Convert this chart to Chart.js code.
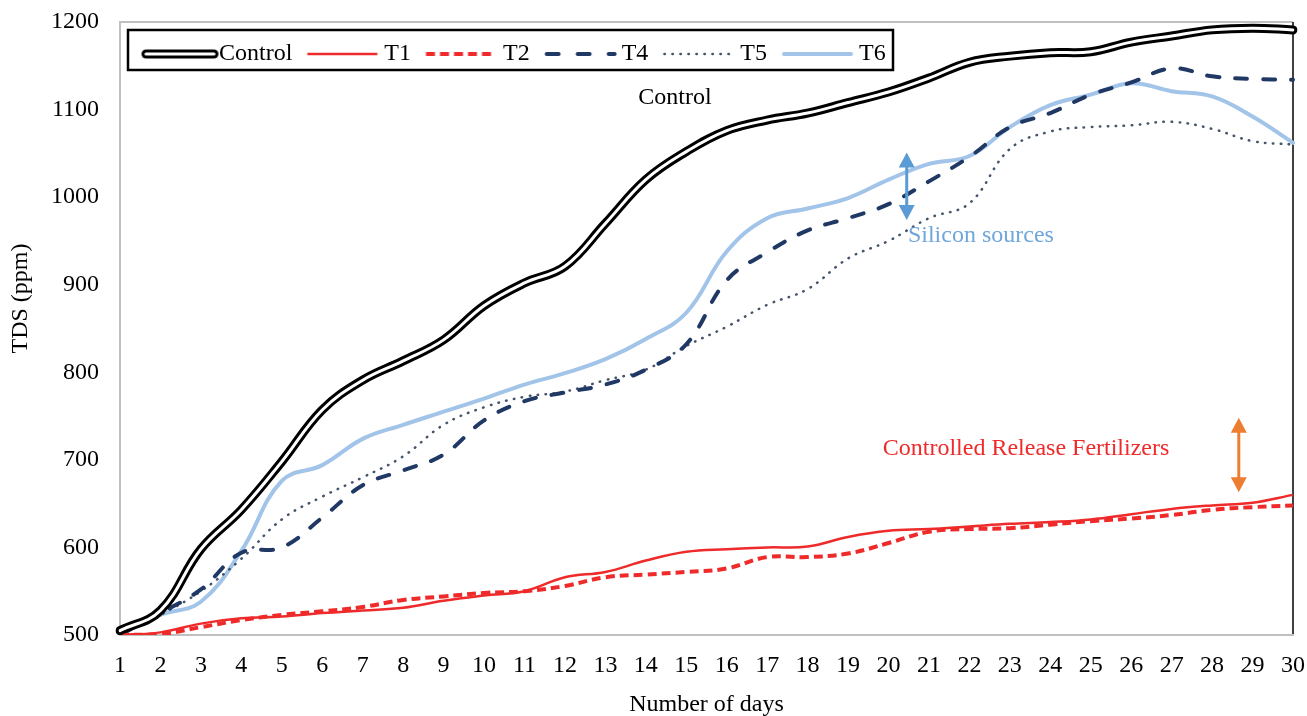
<!DOCTYPE html>
<html>
<head>
<meta charset="utf-8">
<script src="https://cdn.jsdelivr.net/npm/chart.js@4.4.1/dist/chart.umd.min.js"></script>
<style>
html,body{margin:0;padding:0;background:#fff;}
#wrap{width:1307px;height:716px;}
</style>
</head>
<body>
<div id="wrap"><canvas id="c" width="1307" height="716"></canvas></div>
<script>
// ---------- data ----------
const days = ['1','2','3','4','5','6','7','8','9','10','11','12','13','14','15','16','17','18','19','20','21','22','23','24','25','26','27','28','29','30'];
const seriesNames = ['Control','T1','T2','T4','T5','T6'];
const control = [505,528,598,643,698,757,791,813,837,876,902,921,970,1020,1052,1076,1088,1096,1108,1120,1136,1154,1161,1165,1166,1177,1184,1191,1193,1191];
const t1 = [500,503,513,519,521,525,528,531,539,545,550,566,572,585,595,598,600,601,612,619,621,624,627,629,632,638,644,648,651,660];
const t2 = [500,501,509,517,523,527,532,540,544,548,550,556,566,569,572,576,589,589,593,605,618,621,622,626,630,633,637,643,646,648];
const t4 = [500,525,552,594,600,634,671,688,706,745,767,777,786,803,832,905,937,962,976,992,1018,1046,1080,1096,1117,1131,1147,1138,1135,1134];
const t5 = [500,523,550,587,632,658,680,704,740,760,772,778,791,803,830,852,877,895,930,950,976,993,1055,1075,1080,1082,1086,1078,1064,1060];
const t6 = [502,523,538,596,676,694,724,740,755,770,786,799,815,838,868,938,976,987,999,1020,1038,1047,1080,1105,1117,1130,1121,1115,1092,1062];
const yAxisTitle = 'TDS (ppm)';
const xAxisTitle = 'Number of days';
const noteLabels = ['Control', 'Silicon sources', 'Controlled Release Fertilizers'];

// ---------- styles ----------
const FONT = "'Liberation Serif','Times New Roman',serif";
const C_RED = '#EE2A2A', C_NAVY = '#203864', C_SLATE = '#44546A', C_LBLUE = '#A2C4E8';
const BOXW = 65;          // legend box width (text starts BOXW + 12 after item start)
const OFF = 17.5;         // canvas offset so that sample starts at item start
const Y_TITLE_SHIFT = 10; // leading blanks that lift the rotated y title

function sample(draw){
  const cv = document.createElement('canvas');
  cv.width = 100; cv.height = 14;
  const g = cv.getContext('2d');
  draw(g);
  return cv;
}
function seg(g, color, w, dash, cap, x0, x1){
  g.strokeStyle = color; g.lineWidth = w; g.setLineDash(dash || []); g.lineCap = cap || 'butt';
  g.beginPath(); g.moveTo(OFF + x0, 7); g.lineTo(OFF + x1, 7); g.stroke();
}
const legendSamples = [
  sample(g => { seg(g,'#000',9,[], 'round',4,72); seg(g,'#fff',3,[], 'round',4,72); }),
  sample(g => seg(g,C_RED,2.5,[], 'butt',0,70)),
  sample(g => seg(g,C_RED,4,[9,5], 'butt',0,70)),
  sample(g => seg(g,C_NAVY,4,[12,19], 'round',2,70)),
  sample(g => seg(g,C_SLATE,2.5,[0.5,7.5], 'round',1,70)),
  sample(g => seg(g,C_LBLUE,4,[], 'round',2,69))
];

const base = { fill:false, pointRadius:0, pointHoverRadius:0, tension:0.4, borderJoinStyle:'round' };

const frame = {
  id: 'frame',
  beforeLayout(chart){
    const lg = chart.legend;
    if (lg && !lg._patched){
      const f = lg.fit;
      lg.fit = function(){ f.call(this); this.height = 0; };
      lg._patched = true;
    }
  },
  afterLayout(chart){
    const lg = chart.legend;
    lg.left = 127; lg.right = 1000; lg.top = 27; lg.bottom = 76;
    lg.width = lg.right - lg.left; lg.height = lg.bottom - lg.top;
  },
  beforeDraw(chart){
    const ctx = chart.ctx;
    ctx.save();
    ctx.fillStyle = '#fff'; ctx.fillRect(0,0,chart.width,chart.height);
    const a = chart.chartArea;
    ctx.strokeStyle = '#C0C0C0'; ctx.lineWidth = 2;
    ctx.beginPath(); ctx.moveTo(a.left, a.top); ctx.lineTo(a.right, a.top); ctx.stroke();
    ctx.strokeStyle = '#404040';
    ctx.beginPath(); ctx.moveTo(a.right, a.top); ctx.lineTo(a.right, a.bottom + 1); ctx.stroke();
    ctx.strokeStyle = '#000'; ctx.lineWidth = 2.5;
    ctx.strokeRect(128, 30, 765, 40);
    ctx.restore();
  }
};

function arrow(ctx, x, yTop, yBot, color){
  const hw = 8, hl = 15;
  ctx.strokeStyle = color; ctx.fillStyle = color; ctx.lineWidth = 3;
  ctx.beginPath(); ctx.moveTo(x, yTop + hl - 2); ctx.lineTo(x, yBot - hl + 2); ctx.stroke();
  ctx.beginPath(); ctx.moveTo(x, yTop); ctx.lineTo(x - hw, yTop + hl); ctx.lineTo(x + hw, yTop + hl); ctx.closePath(); ctx.fill();
  ctx.beginPath(); ctx.moveTo(x, yBot); ctx.lineTo(x - hw, yBot - hl); ctx.lineTo(x + hw, yBot - hl); ctx.closePath(); ctx.fill();
}

const notes = {
  id: 'notes',
  afterDatasetsDraw(chart){
    const {ctx, scales:{x, y}} = chart;
    const px = d => x.getPixelForValue(d - 1);
    ctx.save();
    ctx.font = '24px ' + FONT;
    ctx.textBaseline = 'middle';
    ctx.textAlign = 'center'; ctx.fillStyle = '#000';
    ctx.fillText(noteLabels[0], px(14.72), y.getPixelForValue(1114));
    ctx.textAlign = 'left'; ctx.fillStyle = '#6FA6DC';
    ctx.fillText(noteLabels[1], px(20.48), y.getPixelForValue(956));
    ctx.textAlign = 'center'; ctx.fillStyle = C_RED;
    ctx.fillText(noteLabels[2], px(23.4), y.getPixelForValue(713));
    arrow(ctx, px(20.45), y.getPixelForValue(1051), y.getPixelForValue(974), '#5B9BD5');
    arrow(ctx, px(28.66), y.getPixelForValue(748), y.getPixelForValue(663), '#ED7D31');
    ctx.restore();
  }
};

Chart.defaults.font.family = FONT;
Chart.defaults.font.size = 24;
Chart.defaults.color = '#000';

new Chart(document.getElementById('c'), {
  type: 'line',
  data: {
    labels: days,
    datasets: [
      Object.assign({}, base, { label: seriesNames[0], data: control, borderColor:'#000', backgroundColor:'#000', borderWidth:9, borderCapStyle:'round', order:1 }),
      Object.assign({}, base, { label: seriesNames[1], data: t1, borderColor:C_RED, backgroundColor:C_RED, borderWidth:2.5, order:2 }),
      Object.assign({}, base, { label: seriesNames[2], data: t2, borderColor:C_RED, backgroundColor:C_RED, borderWidth:4, borderDash:[9,5], order:3 }),
      Object.assign({}, base, { label: seriesNames[3], data: t4, borderColor:C_NAVY, backgroundColor:C_NAVY, borderWidth:4, borderDash:[12,16], borderCapStyle:'round', order:4 }),
      Object.assign({}, base, { label: seriesNames[4], data: t5, borderColor:C_SLATE, backgroundColor:C_SLATE, borderWidth:2.5, borderDash:[0.5,7.5], borderCapStyle:'round', order:5 }),
      Object.assign({}, base, { label: seriesNames[5], data: t6, borderColor:C_LBLUE, backgroundColor:C_LBLUE, borderWidth:4, borderCapStyle:'round', order:6 }),
      Object.assign({}, base, { label: 'overlay', data: control, borderColor:'#fff', backgroundColor:'#fff', borderWidth:3, borderCapStyle:'round', order:0 })
    ]
  },
  options: {
    responsive: false,
    animation: false,
    events: [],
    layout: { padding: { top: 22, right: 14, left: 0, bottom: 0 } },
    plugins: {
      tooltip: { enabled: false },
      legend: {
        display: true,
        position: 'top',
        align: 'start',
        labels: {
          usePointStyle: true,
          pointStyleWidth: BOXW,
          boxWidth: BOXW,
          padding: 15,
          color: '#000',
          font: { size: 24, family: FONT },
          filter: item => item.text !== 'overlay',
          generateLabels: chart => {
            const items = Chart.defaults.plugins.legend.labels.generateLabels(chart);
            items.forEach(it => { const i = seriesNames.indexOf(it.text); if (i >= 0) it.pointStyle = legendSamples[i]; });
            return items;
          }
        }
      }
    },
    scales: {
      x: {
        type: 'category',
        grid: { display: false, drawTicks: true, tickLength: 16 },
        border: { display: true, color: '#C0C0C0', width: 2 },
        ticks: { autoSkip: false, maxRotation: 0, padding: 0, color: '#000', font: { size: 24 } },
        title: { display: true, text: xAxisTitle, color: '#000', font: { size: 24 }, padding: { top: 0, bottom: -3 } },
        afterFit: s => { s.height = 81; }
      },
      y: {
        min: 500, max: 1200,
        grid: { display: false, drawTicks: true, tickLength: 21 },
        border: { display: true, color: '#C0C0C0', width: 2 },
        ticks: { stepSize: 100, padding: 0, color: '#000', font: { size: 24 }, callback: v => String(v) },
        title: { display: true, text: ' '.repeat(Y_TITLE_SHIFT) + yAxisTitle, color: '#000', font: { size: 24 }, padding: { top: 6, bottom: 0 } },
        afterFit: s => { s.width = 120; }
      }
    }
  },
  plugins: [frame, notes]
});
</script>
</body>
</html>
